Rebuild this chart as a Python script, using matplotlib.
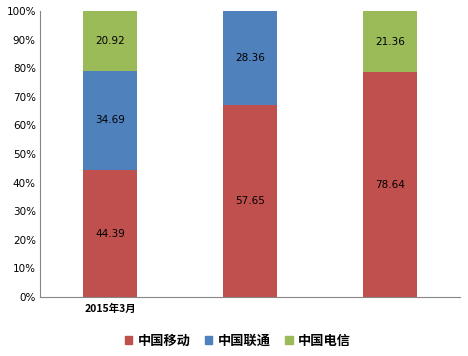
import matplotlib
matplotlib.use("Agg")
import matplotlib.pyplot as plt
import numpy as np
from matplotlib.patches import Patch

plt.rcParams['font.family'] = ['Noto Sans CJK SC', 'DejaVu Sans']

# Data
categories = ['2015年3月', '', '']
series_names = ['中国移动', '中国联通', '中国电信']
mobile = [44.39, 57.65, 78.64]
unicom = [34.69, 28.36, 0.0]
telecom = [20.92, 0.0, 21.36]
colors = ['#C0504D', '#4F81BD', '#9BBB59']

values = np.array([mobile, unicom, telecom])
totals = values.sum(axis=0)
shares = values / totals * 100

fig = plt.figure(figsize=(4.68, 3.56), dpi=100)
ax = fig.add_axes([40 / 468, 1 - 297 / 356, 420 / 468, 286 / 356])

x = np.arange(len(categories))
bottom = np.zeros(len(categories))
for i, name in enumerate(series_names):
    ax.bar(x, shares[i], bottom=bottom, width=0.39, color=colors[i], label=name)
    for j in range(len(categories)):
        if values[i][j] > 0:
            ax.text(x[j], bottom[j] + shares[i][j] / 2, f'{values[i][j]:.2f}',
                    ha='center', va='center', fontsize=7.5, family=['DejaVu Sans'])
    bottom += shares[i]

ax.set_xlim(-0.5, len(categories) - 0.5)
ax.set_ylim(0, 100)
ax.set_yticks(np.arange(0, 101, 10))
ax.set_yticklabels([f'{v}%' for v in range(0, 101, 10)], fontsize=7.5, family=['DejaVu Sans'])
ax.set_xticks(x)
ax.set_xticklabels(categories, fontsize=7.5, fontweight='bold')
ax.tick_params(axis='both', length=0, pad=5)
ax.tick_params(axis='y', pad=3)
for s in ['top', 'right']:
    ax.spines[s].set_visible(False)
for s in ['left', 'bottom']:
    ax.spines[s].set_color('#868686')
    ax.spines[s].set_linewidth(0.8)

handles = [Patch(color=c, label=n) for c, n in zip(colors, series_names)]
fig.legend(handles=handles, loc='center', bbox_to_anchor=(238 / 468, 1 - 341 / 356),
           ncol=3, frameon=False, prop={'size': 9.5, 'weight': 'bold'},
           handlelength=0.55, handleheight=0.55, handletextpad=0.4, columnspacing=1.1)

fig.savefig('out.png', dpi=100)
